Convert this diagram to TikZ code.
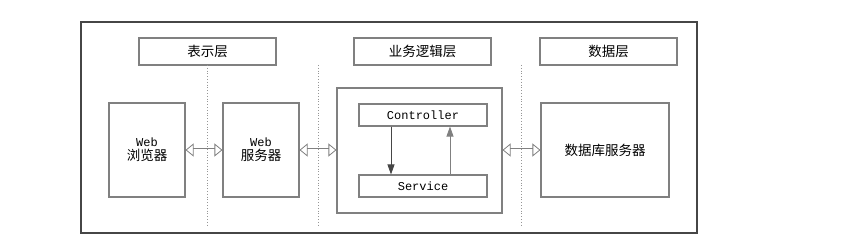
\documentclass[tikz,border=0pt]{standalone}
\usepackage{fontspec}
\setmonofont{Liberation Mono}
\newfontfamily\cjk{Noto Sans CJK SC}
\usepackage{tikz}
\usetikzlibrary{arrows.meta, positioning}
\definecolor{framegray}{RGB}{70, 70, 70}
\definecolor{boxgray}{RGB}{128, 128, 128}
\definecolor{sepgray}{RGB}{150, 150, 150}

\begin{document}
\begin{tikzpicture}[
    x=1pt, y=-1pt,
    layer/.style={rectangle, draw=boxgray, line width=1.1pt, minimum width=137pt, minimum height=27pt, inner sep=0pt, font=\cjk\fontsize{13.5}{14}\selectfont},
    tier/.style={rectangle, draw=boxgray, line width=1.1pt, minimum width=76pt, minimum height=94pt, inner sep=0pt, align=center, font=\fontsize{12}{14}\selectfont},
    module/.style={rectangle, draw=boxgray, line width=1.1pt, minimum width=128pt, minimum height=22pt, inner sep=0pt, font=\ttfamily\fontsize{12}{14}\selectfont},
    link/.style={draw=boxgray, line width=0.8pt, double=white, double distance=3pt, {Triangle[open,length=8pt,width=13pt]}-{Triangle[open,length=8pt,width=13pt]}},
    call/.style={-{Triangle[length=10pt,width=7pt]}, line width=0.9pt},
    sep/.style={sepgray, dotted, line width=0.8pt}
]
\useasboundingbox (0,0) rectangle (846,246);

% Frame
\draw[framegray, line width=1.2pt] (81,22) rectangle (697,233);

% Layer titles
\node[layer] (present) at (207.5,51.5) {表示层};
\node[layer] (logic) at (422.5,51.5) {业务逻辑层};
\node[layer] (data) at (608.5,51.5) {数据层};

% Tiers
\node[tier] (browser) at (147,150) {\ttfamily Web\\\cjk\fontsize{13.5}{14}\selectfont 浏览器};
\node[tier] (webserver) at (261,150) {\ttfamily Web\\\cjk\fontsize{13.5}{14}\selectfont 服务器};
\node[rectangle, draw=boxgray, line width=1.1pt, minimum width=165pt, minimum height=125pt] (biz) at (419.5,150.5) {};
\node[module] (controller) at (423,115) {Controller};
\node[module] (service) at (423,186) {Service};
\node[tier, minimum width=128pt, font=\cjk\fontsize{13.5}{14}\selectfont] (db) at (605,150) {数据库服务器};

% Connections
\draw[link] (browser) -- (webserver);
\draw[link] (webserver.east) -- (webserver.east -| biz.west);
\draw[link] (biz.east |- db.west) -- (db.west);
\draw[call, framegray, fill=framegray] ([xshift=-32pt]controller.south) -- ([xshift=-32pt]service.north);
\draw[call, boxgray, fill=boxgray] ([xshift=27pt]service.north) -- ([xshift=27pt]controller.south);

% Separators
\foreach \x in {207,318,521} {
    \draw[sep] (\x,65) -- (\x,227);
}
\end{tikzpicture}
\end{document}
